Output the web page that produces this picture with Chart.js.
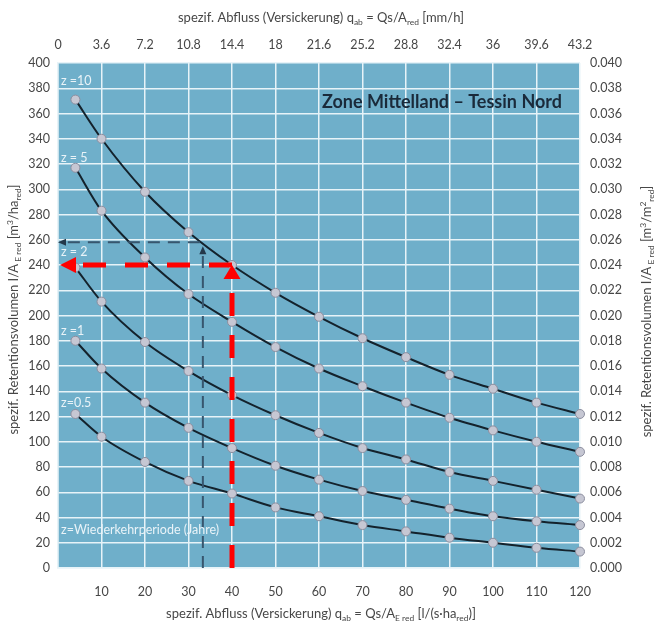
<!DOCTYPE html>
<html>
<head>
<meta charset="utf-8">
<script src="https://cdn.jsdelivr.net/npm/chart.js@4"></script>
<style>
  body { margin: 0; background: #fff; }
  canvas { display: block; }
</style>
</head>
<body>
<canvas id="retChart" width="655" height="625"></canvas>
<script>
// q in l/(s·ha_red), V in m3/ha_red
const xValues = [4, 10, 20, 30, 40, 50, 60, 70, 80, 90, 100, 110, 120];
const z10 = [371, 340, 298, 266, 240, 218, 199, 182, 167, 153, 142, 131, 122];
const z5 = [317, 283, 246, 217, 195, 175, 158, 144, 131, 119, 109, 100, 92];
const z2 = [238, 211, 179, 156, 137, 121, 107, 95, 86, 76, 69, 62, 55];
const z1 = [180, 158, 131, 111, 95, 81, 70, 61, 54, 47, 41, 37, 34];
const z05 = [122, 104, 84, 69, 59, 48, 41, 34, 29, 24, 20, 16, 13];

const bottomTicks = ["", "10", "20", "30", "40", "50", "60", "70", "80", "90", "100", "110", "120"];
const topTicks = ["0", "3.6", "7.2", "10.8", "14.4", "18", "21.6", "25.2", "28.8", "32.4", "36", "39.6", "43.2"];
const leftTicks = ["0", "20", "40", "60", "80", "100", "120", "140", "160", "180", "200",
    "220", "240", "260", "280", "300", "320", "340", "360", "380", "400"];
const rightTicks = ["0.000", "0.002", "0.004", "0.006", "0.008", "0.010", "0.012", "0.014", "0.016", "0.018", "0.020",
    "0.022", "0.024", "0.026", "0.028", "0.030", "0.032", "0.034", "0.036", "0.038", "0.040"];

// reading examples (arrows)
const redGuide = [[40, 0], [40, 240], [0, 240]];
const darkGuide = [[33.3, 0], [33.3, 258], [0, 258]];

// curve labels and the value where each sits
const curveLabels = ["z =10", "z = 5", "z = 2", "z =1", "z=0.5", "z=Wiederkehrperiode (Jahre)"];
const curveLabelY = [386, 325, 250, 188, 131, 30];

const FONT = "Lato, 'Open Sans', sans-serif";
const textGrey = "#474747";

function toPoints(ys) {
    return xValues.map((x, i) => ({ x: x, y: ys[i] }));
}

function curve(label, ys) {
    return {
        label: label,
        data: toPoints(ys),
        borderColor: "#14222c",
        borderWidth: 2,
        cubicInterpolationMode: "monotone",
        pointRadius: 4.5,
        pointBackgroundColor: "#c6c7d3",
        pointBorderColor: "#8c8e9f",
        pointBorderWidth: 1,
        clip: false
    };
}

// text with sub/superscripts: [text, 0 normal | -1 sub | 1 sup]
function drawRich(ctx, parts, x, y, angle, size) {
    ctx.save();
    ctx.translate(x, y);
    ctx.rotate(angle);
    ctx.fillStyle = textGrey;
    ctx.textBaseline = "middle";
    ctx.textAlign = "left";
    let total = 0;
    parts.forEach(p => {
        ctx.font = (p[1] ? size * 0.65 : size) + "px " + FONT;
        total += ctx.measureText(p[0]).width;
    });
    let cx = -total / 2;
    parts.forEach(p => {
        ctx.font = (p[1] ? size * 0.65 : size) + "px " + FONT;
        const dy = p[1] === -1 ? size * 0.3 : (p[1] === 1 ? -size * 0.3 : 0);
        ctx.fillText(p[0], cx, dy);
        cx += ctx.measureText(p[0]).width;
    });
    ctx.restore();
}

function arrowHead(ctx, tx, ty, dir, len, half, color) {
    ctx.save();
    ctx.fillStyle = color;
    ctx.beginPath();
    if (dir === "up") {
        ctx.moveTo(tx, ty);
        ctx.lineTo(tx - half, ty + len);
        ctx.lineTo(tx + half, ty + len);
    } else {
        ctx.moveTo(tx, ty);
        ctx.lineTo(tx + len, ty - half);
        ctx.lineTo(tx + len, ty + half);
    }
    ctx.closePath();
    ctx.fill();
    ctx.restore();
}

const decor = {
    id: "decor",
    beforeDraw(chart) {
        const a = chart.chartArea;
        const ctx = chart.ctx;
        ctx.save();
        ctx.fillStyle = "#6fafca";
        ctx.fillRect(a.left, a.top, a.right - a.left, a.bottom - a.top);
        ctx.restore();
    },
    afterDatasetsDraw(chart) {
        const ctx = chart.ctx;
        const a = chart.chartArea;
        const xs = chart.scales.x;
        const ys = chart.scales.y;
        const px = v => xs.getPixelForValue(v);
        const py = v => ys.getPixelForValue(v);

        // dark dashed guide
        const d0 = darkGuide[0], d1 = darkGuide[1], d2 = darkGuide[2];
        ctx.save();
        ctx.strokeStyle = "#37566e";
        ctx.lineWidth = 2;
        ctx.setLineDash([12, 8]);
        ctx.beginPath();
        ctx.moveTo(px(d0[0]), py(d0[1]));
        ctx.lineTo(px(d1[0]), py(d1[1]) + 11);
        ctx.stroke();
        ctx.beginPath();
        ctx.moveTo(px(d1[0]) - 3, py(d1[1]));
        ctx.lineTo(px(d2[0]) + 7, py(d2[1]));
        ctx.stroke();
        ctx.restore();
        arrowHead(ctx, px(d1[0]), py(d1[1]) + 4, "up", 8, 3.5, "#24384a");
        arrowHead(ctx, px(d2[0]), py(d2[1]), "left", 8, 3.5, "#24384a");

        // red guide
        const r0 = redGuide[0], r1 = redGuide[1], r2 = redGuide[2];
        ctx.save();
        ctx.strokeStyle = "#ff0000";
        ctx.lineWidth = 5;
        ctx.setLineDash([23, 19]);
        ctx.beginPath();
        ctx.moveTo(px(r0[0]), py(r0[1]));
        ctx.lineTo(px(r1[0]), py(r1[1]) + 14);
        ctx.stroke();
        ctx.beginPath();
        ctx.moveTo(px(r1[0]), py(r1[1]));
        ctx.lineTo(px(r2[0]) + 15, py(r2[1]));
        ctx.stroke();
        ctx.restore();
        arrowHead(ctx, px(r1[0]), py(r1[1]), "up", 14, 8.5, "#ff0000");
        arrowHead(ctx, px(r2[0]) + 2, py(r2[1]), "left", 16, 8, "#ff0000");

        // curve labels
        ctx.save();
        ctx.fillStyle = "#e9f3f8";
        ctx.font = "12.5px " + FONT;
        ctx.textBaseline = "middle";
        ctx.textAlign = "left";
        curveLabels.forEach((t, i) => ctx.fillText(t, a.left + 3, py(curveLabelY[i])));
        ctx.restore();

        // chart title
        ctx.save();
        ctx.fillStyle = "#1a2a3a";
        ctx.font = "bold 18px " + FONT;
        ctx.textBaseline = "middle";
        ctx.textAlign = "right";
        ctx.fillText("Zone Mittelland \u2013 Tessin Nord", a.right - 18, a.top + 39);
        ctx.restore();

        // axis titles
        const midX = (a.left + a.right) / 2;
        const midY = (a.top + a.bottom) / 2;
        drawRich(ctx, [["spezif. Abfluss (Versickerung) q", 0], ["ab", -1], [" = Qs/A", 0], ["red", -1], [" [mm/h]", 0]],
            midX + 2, 18, 0, 13);
        drawRich(ctx, [["spezif. Abfluss (Versickerung) q", 0], ["ab", -1], [" = Qs/A", 0], ["E red", -1],
            [" [l/(s\u00b7ha", 0], ["red", -1], [")]", 0]], midX + 2, 614, 0, 13);
        drawRich(ctx, [["spezif. Retentionsvolumen I/A", 0], [" E red", -1], [" [m", 0], ["3", 1], ["/ha", 0], ["red", -1], ["]", 0]],
            14, midY - 6, -Math.PI / 2, 13);
        drawRich(ctx, [["spezif. Retentionsvolumen I/A", 0], [" E red", -1], [" [m", 0], ["3", 1], ["/m", 0], ["2", 1], ["red", -1], ["]", 0]],
            647, midY - 4, -Math.PI / 2, 13);
    }
};

const gridStyle = { color: "#e7f3f8", lineWidth: 1.5, drawTicks: false };
const tickFont = { family: FONT, size: 12.5 };

new Chart(document.getElementById("retChart").getContext("2d"), {
    type: "line",
    data: {
        datasets: [curve("z=10", z10), curve("z=5", z5), curve("z=2", z2), curve("z=1", z1), curve("z=0.5", z05)]
    },
    options: {
        responsive: false,
        animation: false,
        layout: { padding: 0 },
        plugins: { legend: { display: false }, tooltip: { enabled: false } },
        scales: {
            x: {
                type: "linear", position: "bottom", min: 0, max: 120,
                grid: gridStyle,
                border: { display: true, color: "#e7f3f8", width: 1.5 },
                ticks: { stepSize: 10, padding: 16, color: textGrey, font: tickFont,
                    callback: (v, i) => bottomTicks[i] },
                afterFit: s => { s.height = 57; }
            },
            x2: {
                type: "linear", position: "top", min: 0, max: 120,
                grid: { display: false, drawTicks: false },
                border: { display: false },
                ticks: { stepSize: 10, padding: 11, color: textGrey, font: tickFont,
                    callback: (v, i) => topTicks[i] },
                afterFit: s => { s.height = 63; }
            },
            y: {
                type: "linear", position: "left", min: 0, max: 400,
                grid: gridStyle,
                border: { display: true, color: "#e7f3f8", width: 1.5 },
                ticks: { stepSize: 20, padding: 8, color: textGrey, font: tickFont,
                    callback: (v, i) => leftTicks[i] },
                afterFit: s => { s.width = 58; }
            },
            y2: {
                type: "linear", position: "right", min: 0, max: 400,
                grid: { display: false, drawTicks: false },
                border: { display: false },
                ticks: { stepSize: 20, padding: 10, color: textGrey, font: tickFont,
                    callback: (v, i) => rightTicks[i] },
                afterFit: s => { s.width = 75; }
            }
        }
    },
    plugins: [decor]
});
</script>
</body>
</html>
